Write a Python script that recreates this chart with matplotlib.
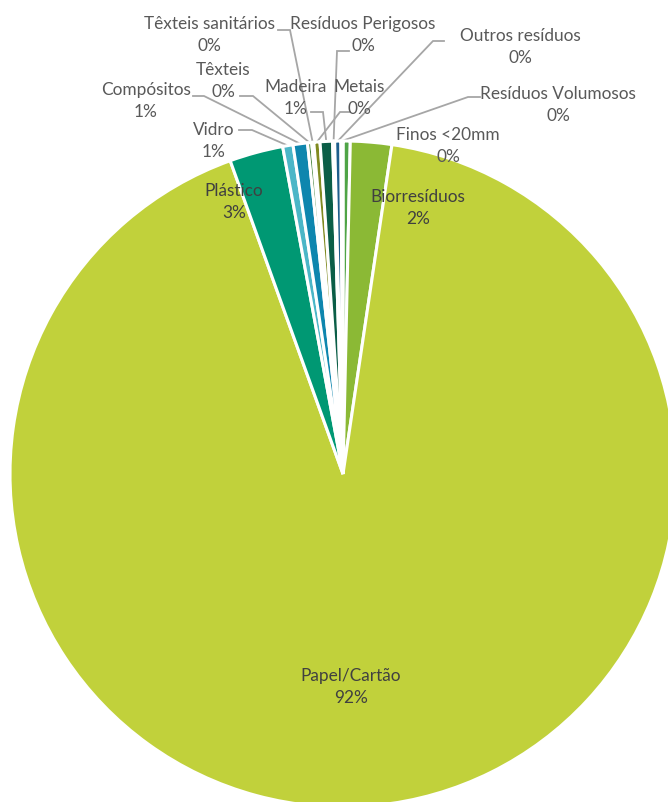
import numpy as np
import matplotlib.pyplot as plt

plt.rcParams['font.family'] = ['Lato', 'DejaVu Sans']

# slice order: clockwise from 12 o'clock
categories = ['Finos <20mm', 'Biorresíduos', 'Papel/Cartão', 'Plástico', 'Vidro',
              'Compósitos', 'Têxteis', 'Têxteis sanitários', 'Metais', 'Madeira',
              'Resíduos Perigosos', 'Outros resíduos', 'Resíduos Volumosos']
values = [0.35, 2.0, 92.15, 2.6, 0.5, 0.7, 0.2, 0.1, 0.3, 0.6, 0.1, 0.3, 0.1]
pct_labels = ['0%', '2%', '92%', '3%', '1%', '1%', '0%', '0%', '0%', '1%', '0%', '0%', '0%']
colors = ['#4fa446', '#8bb935', '#c1d13b', '#009873', '#4bb6c7', '#0e86ae', '#3f7f35',
          '#9dc756', '#808a20', '#0b5e47', '#a9c46a', '#1d5e8c', '#2e8b57']

W, H = 668, 803
fig = plt.figure(figsize=(W / 100, H / 100), dpi=100)
ax = fig.add_axes([0, 0, 1, 1])

cx, cy, R = 343, H - 475, 333
wedges, _ = ax.pie(values, colors=colors, startangle=90, counterclock=False,
                   center=(cx, cy), radius=R, frame=True,
                   wedgeprops=dict(edgecolor='white', linewidth=2.2))
ax.set_xlim(0, W)
ax.set_ylim(0, H)
ax.set_aspect('equal')
ax.axis('off')

inside = '#404040'
outside = '#595959'
fs = 12.4
ls = 1.4

# labels drawn on/near slices (no leader): name -> text centre in pixels
plain = {
    'Papel/Cartão': (351, 687),
    'Biorresíduos': (418, 208),
    'Plástico': (234, 202),
    'Finos <20mm': (448, 146),
}
# labels with leader: name -> (text centre, leader start, elbow)
leader = {
    'Vidro': ((214, 141), (239, 131), (252, 131)),
    'Compósitos': ((146, 101), (193, 97), (204, 97)),
    'Têxteis': ((223, 81), (240, 97), (253, 97)),
    'Têxteis sanitários': ((209, 35), (278, 31), (290, 31)),
    'Madeira': ((296, 98), (311, 113), (323, 113)),
    'Metais': ((359, 98), (350, 113), (340, 113)),
    'Resíduos Perigosos': ((363, 35), (349, 52), (337, 52)),
    'Outros resíduos': ((520, 47), (444, 42), (433, 42)),
    'Resíduos Volumosos': ((558, 105), (480, 98), (468, 98)),
}

for i, name in enumerate(categories):
    txt = name + '\n' + pct_labels[i]
    if name in plain:
        x, y = plain[name]
        col = outside if name == 'Finos <20mm' else inside
        ax.text(x, H - y, txt, ha='center', va='center', fontsize=fs, color=col,
                linespacing=ls)
    else:
        (x, y), (sx, sy), (ex, ey) = leader[name]
        ax.text(x, H - y, txt, ha='center', va='center', fontsize=fs, color=outside,
                linespacing=ls)
        w = wedges[i]
        th = np.deg2rad((w.theta1 + w.theta2) / 2)
        px = cx + R * np.cos(th)
        py = cy + R * np.sin(th)
        ax.plot([sx, ex, px], [H - sy, H - ey, py], color='#a6a6a6', lw=1.3,
                solid_joinstyle='miter', zorder=0.5)

fig.savefig('out.png', dpi=100)
